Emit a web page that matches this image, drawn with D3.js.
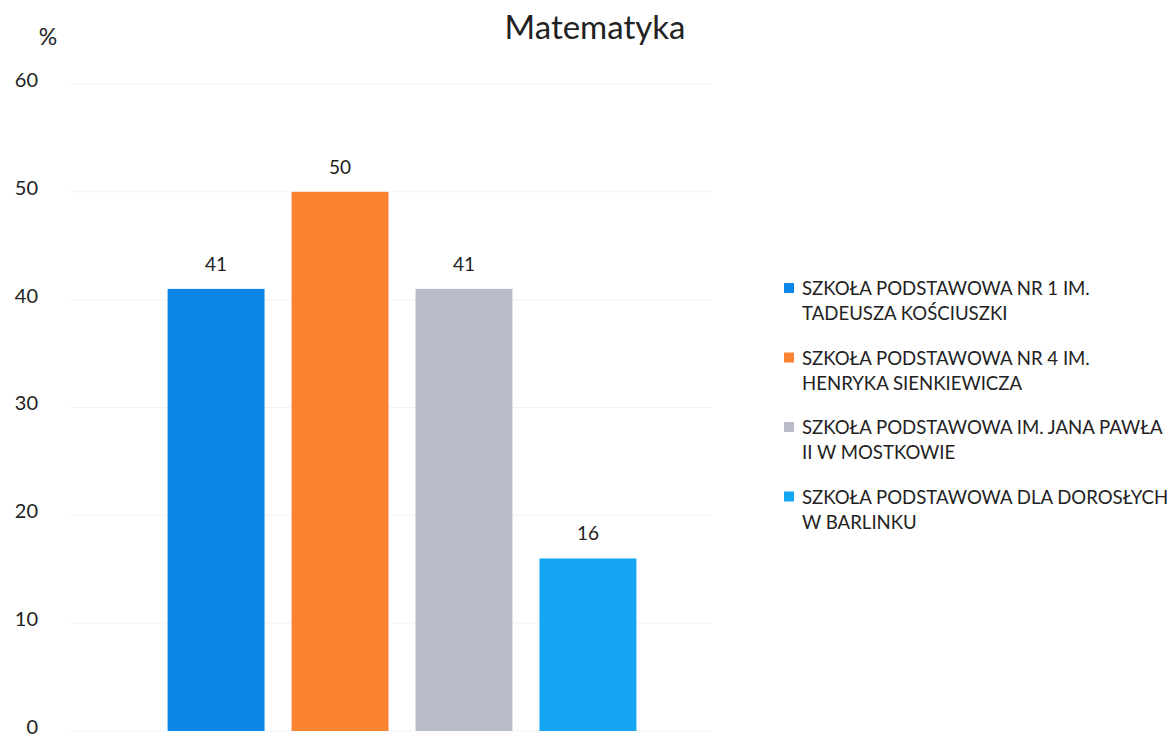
<!DOCTYPE html>
<html>
<head>
<meta charset="utf-8">
<script src="https://cdn.jsdelivr.net/npm/d3@7"></script>
<style>
  body { margin: 0; background: #fff; }
  svg text { font-family: Lato, "Open Sans", sans-serif; fill: #222; }
</style>
</head>
<body>
<div id="vis"></div>
<script>
// data
var schools = [
  ["SZKOŁA PODSTAWOWA NR 1 IM.", "TADEUSZA KOŚCIUSZKI"],
  ["SZKOŁA PODSTAWOWA NR 4 IM.", "HENRYKA SIENKIEWICZA"],
  ["SZKOŁA PODSTAWOWA IM. JANA PAWŁA", "II W MOSTKOWIE"],
  ["SZKOŁA PODSTAWOWA DLA DOROSŁYCH", "W BARLINKU"]
];
var values = [41, 50, 41, 16];
var colors = ["#0b85e6", "#fa8431", "#b9bdca", "#14a6f2"];
var yTicks = [0, 10, 20, 30, 40, 50, 60];

var w = 1175, h = 739;

var svg = d3.select("#vis").append("svg")
    .attr("width", w)
    .attr("height", h);

var x = d3.scaleBand()
    .domain(d3.range(values.length))
    .range([92, 712])
    .paddingInner(0.218)
    .paddingOuter(0.61);

var y = d3.scaleLinear()
    .domain([0, 60])
    .range([731, 84]);

// faint gridlines
svg.append("g")
    .selectAll("line")
    .data(yTicks)
    .enter().append("line")
    .attr("x1", 70)
    .attr("x2", 712)
    .attr("y1", function(d) { return y(d); })
    .attr("y2", function(d) { return y(d); })
    .attr("stroke", "#f3f3f3")
    .attr("stroke-width", 1);

// y axis labels (no axis line)
var yAxis = svg.append("g")
    .attr("transform", "translate(38,0)")
    .call(d3.axisLeft(y).tickValues(yTicks).tickSize(0).tickPadding(0));
yAxis.select(".domain").remove();
yAxis.selectAll("text")
    .style("font-size", "20px")
    .style("font-family", "Lato, sans-serif")
    .attr("dy", "0.12em")
    .attr("fill", "#222");

svg.append("text")
    .attr("x", 48)
    .attr("y", 45)
    .attr("text-anchor", "middle")
    .style("font-size", "23px")
    .text("%");

svg.append("text")
    .attr("x", 595)
    .attr("y", 39)
    .attr("text-anchor", "middle")
    .style("font-size", "33px")
    .text("Matematyka");

// bars
svg.append("g")
    .selectAll("rect")
    .data(values)
    .enter().append("rect")
    .attr("x", function(d, i) { return x(i); })
    .attr("y", function(d) { return y(d); })
    .attr("width", x.bandwidth())
    .attr("height", function(d) { return y(0) - y(d); })
    .attr("fill", function(d, i) { return colors[i]; });

// value labels
svg.append("g")
    .selectAll("text")
    .data(values)
    .enter().append("text")
    .attr("x", function(d, i) { return x(i) + x.bandwidth() / 2; })
    .attr("y", function(d) { return y(d) - 18; })
    .attr("text-anchor", "middle")
    .style("font-size", "19px")
    .text(function(d) { return d; });

// legend
var legend = svg.append("g")
    .selectAll("g")
    .data(schools)
    .enter().append("g")
    .attr("transform", function(d, i) { return "translate(784," + (288 + i * 69.5) + ")"; });

legend.append("rect")
    .attr("x", 0)
    .attr("y", -5)
    .attr("width", 10)
    .attr("height", 10)
    .attr("fill", function(d, i) { return colors[i]; });

legend.each(function(d) {
    var t = d3.select(this).append("text")
        .attr("x", 18)
        .attr("y", 7)
        .style("font-size", "18.6px");
    t.selectAll("tspan")
        .data(d)
        .enter().append("tspan")
        .attr("x", 18)
        .attr("dy", function(s, k) { return k == 0 ? 0 : 25; })
        .text(function(s) { return s; });
});
</script>
</body>
</html>
